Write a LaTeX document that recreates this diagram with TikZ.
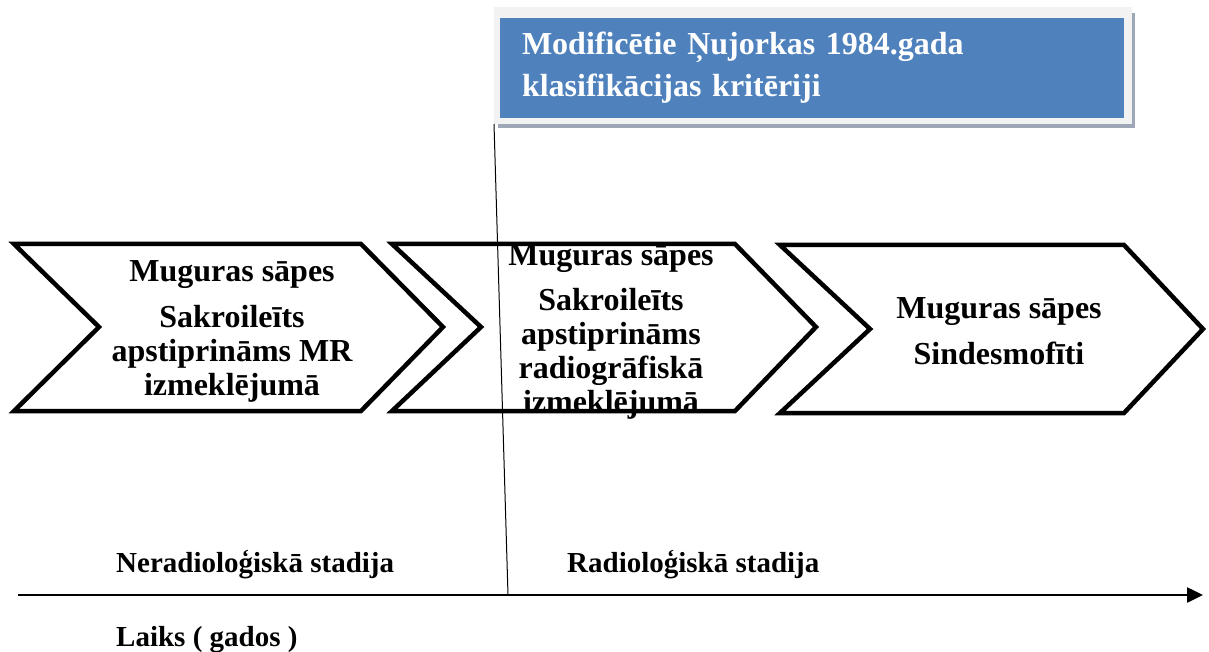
\documentclass[tikz,border=0pt]{standalone}
\usepackage{fontspec}
\setmainfont{Liberation Serif}
\usepackage{tikz}
\usetikzlibrary{arrows.meta}
\usetikzlibrary{positioning}
\definecolor{critblue}{HTML}{4F81BD}
\definecolor{critframe}{HTML}{F2F2F2}
\definecolor{critshadow}{HTML}{9DA7B8}

\begin{document}
\begin{tikzpicture}[x=1pt,y=-1pt,
				chev/.style={draw=black,line width=4.5pt,line join=miter,fill=white},
				chev text/.style={align=center,inner sep=0pt,
					font=\bfseries\fontsize{32}{34}\selectfont},
				crit box/.style={fill=critblue,text=white,minimum width=624pt,
					minimum height=100pt,text width=580pt,inner xsep=22pt,align=left,
					font=\bfseries\fontsize{32}{42}\selectfont},
				stage label/.style={anchor=base west,inner sep=0pt,
					font=\bfseries\fontsize{29}{32}\selectfont}]
				\useasboundingbox (0,0) rectangle (1209,652);
				
				% kriteriju lodzins ar ena
				\fill[critshadow] (498,13) rectangle (1135,128);
				\fill[critframe] (494,7) rectangle (1132,124);
				\node[crit box] (crit) at (812,68) {Modificētie Ņujorkas 1984.gada\\klasifikācijas kritēriji};
				\coordinate (critcorner) at (494,124);
				
				% bultas
				\draw[chev] (14,244) -- (361,244) -- (443,327) -- (361,411) -- (14,411) -- (99,327) -- cycle;
				\draw[chev] (392,244) -- (735,244) -- (816,327) -- (735,411) -- (392,411) -- (481,327) -- cycle;
				\draw[chev] (780,245) -- (1124,245) -- (1203,329) -- (1124,413) -- (780,413) -- (870,329) -- cycle;
				
				\node[chev text] (mr) at (232,331) {Muguras sāpes\\[12pt]Sakroileīts\\apstiprināms MR\\izmeklējumā};
				\node[chev text] (rtg) at (611,332) {Muguras sāpes\\[11pt]Sakroileīts\\apstiprināms\\radiogrāfiskā\\izmeklējumā};
				\node[chev text,font=\bfseries\fontsize{32}{46}\selectfont] (sind) at (999,331) {Muguras sāpes\\Sindesmofīti};
				
				% laika ass
				\coordinate (t0) at (18,595);
				\coordinate (t1) at (1203,595);
				\coordinate (split) at (508,595);
				\draw[line width=2.5pt,-{Triangle[length=16pt,width=15pt]}] (t0) -- (t1);
				\draw[line width=1pt] (critcorner) -- (split);
				
				\node[stage label] (nerad) at (116,572) {Neradioloģiskā stadija};
				\node[stage label] (rad) at (567,572) {Radioloģiskā stadija};
				\node[stage label] (laiks) at (116,646) {Laiks ( gados )};
			\end{tikzpicture}
\end{document}
